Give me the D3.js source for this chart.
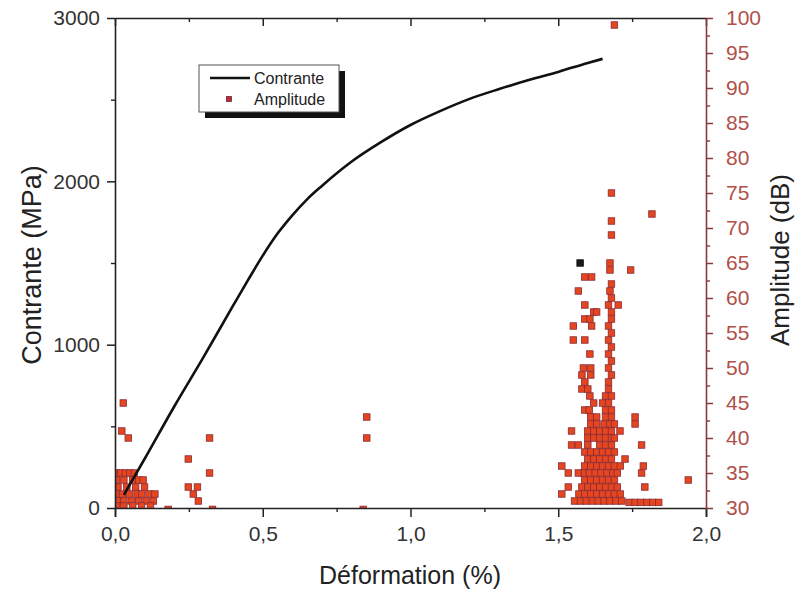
<!DOCTYPE html>
<html>
<head>
<meta charset="utf-8">
<script src="https://cdn.jsdelivr.net/npm/d3@7"></script>
<style>
  html, body { margin: 0; padding: 0; background: #fff; }
  svg { display: block; font-family: "Liberation Sans", Arial, sans-serif; }
</style>
</head>
<body>
<svg id="chart" width="797" height="591"></svg>
<script>
// Stress–strain curve (deformation in %, stress in MPa)
const deformation = [0.03, 0.1, 0.2, 0.3, 0.4, 0.45, 0.5, 0.55, 0.6, 0.65, 0.7, 0.8, 0.9, 1.0, 1.1, 1.2, 1.3, 1.4, 1.5, 1.6, 1.65];
const contrante   = [80, 300, 620, 925, 1240, 1395, 1545, 1680, 1792, 1890, 1972, 2120, 2240, 2345, 2430, 2505, 2565, 2620, 2670, 2725, 2750];

// Acoustic emission hits: [deformation %, amplitude dB]
const hitsEarly = [
  [0.005,35],[0.02,35],[0.035,35],[0.05,35],[0.065,35],
  [0.005,34],[0.03,34],[0.06,34],[0.08,34],[0.095,34],
  [0.01,33],[0.04,33],[0.07,33],[0.1,33],
  [0.005,32],[0.025,32],[0.05,32],[0.075,32],[0.09,32],[0.115,32],[0.135,32],
  [0.01,31],[0.03,31],[0.055,31],[0.08,31],[0.105,31],[0.13,31],
  [0.005,30.3],[0.03,30.3],[0.06,30.3],[0.09,30.3],[0.12,30.3],
  [0.028,45],[0.023,41],[0.045,40],
  [0.32,40],[0.248,37],[0.32,35],[0.248,33],[0.279,33],[0.265,32],[0.282,31],
  [0.852,43],[0.852,40],
  [0.18,29.8],[0.33,29.8],[0.84,29.8]
];

const hitsRupture = [
  [1.555,31],[1.575,31],[1.595,31],[1.615,31],[1.635,31],[1.655,31],[1.675,31],[1.695,31],[1.715,31],
  [1.74,30.8],[1.76,30.8],[1.78,30.8],[1.80,30.8],[1.82,30.8],[1.84,30.8],
  [1.57,32],[1.59,32],[1.61,32],[1.63,32],[1.65,32],[1.67,32],[1.69,32],[1.71,32],[1.512,32],
  [1.58,33],[1.60,33],[1.62,33],[1.64,33],[1.66,33],[1.68,33],[1.70,33],[1.534,33],[1.793,33],
  [1.59,34],[1.61,34],[1.63,34],[1.65,34],[1.67,34],[1.69,34],[1.94,34],
  [1.585,35],[1.605,35],[1.625,35],[1.645,35],[1.665,35],[1.685,35],[1.70,35],[1.534,35],[1.568,35],[1.782,35],
  [1.59,36],[1.61,36],[1.63,36],[1.65,36],[1.67,36],[1.69,36],[1.71,36],[1.512,36],[1.788,36],
  [1.60,37],[1.62,37],[1.64,37],[1.66,37],[1.68,37],[1.726,37],
  [1.59,38],[1.61,38],[1.63,38],[1.65,38],[1.67,38],[1.69,38],
  [1.60,39],[1.64,39],[1.66,39],[1.68,39],[1.545,39],[1.568,39],[1.782,39],
  [1.60,40],[1.62,40],[1.64,40],[1.66,40],[1.68,40],[1.69,40],
  [1.60,41],[1.62,41],[1.64,41],[1.66,41],[1.68,41],[1.709,41],[1.545,41],
  [1.61,42],[1.63,42],[1.655,42],[1.675,42],[1.69,42],[1.76,42],
  [1.61,43],[1.63,43],[1.66,43],[1.68,43],[1.76,43],
  [1.59,44],[1.605,44],[1.66,44],[1.68,44],
  [1.62,45],[1.65,45],[1.67,45],
  [1.607,46],[1.66,46],[1.68,46],
  [1.58,47],[1.60,47],[1.67,47],
  [1.59,48],[1.67,48],
  [1.58,49],[1.61,49],[1.68,49],
  [1.585,50],[1.61,50],[1.67,50],
  [1.68,51],
  [1.607,52],[1.67,52],
  [1.68,53],
  [1.551,54],[1.59,54],[1.67,54],
  [1.68,55],
  [1.551,56],[1.613,56],[1.67,56],
  [1.59,57],[1.607,57],[1.68,57],
  [1.62,58],[1.63,58],[1.68,58],
  [1.59,59],[1.703,59],[1.67,59],
  [1.68,60],
  [1.568,61],[1.675,61],
  [1.68,62],
  [1.59,63],[1.613,63],
  [1.675,64],[1.745,64],
  [1.675,65],
  [1.68,69],[1.68,71],[1.817,72],[1.68,75],[1.69,99]
];
const hitsDark = [[1.574,65]];

// Axis ticks
const xMajor = [0, 0.5, 1.0, 1.5, 2.0];
const xTickLabels = ["0,0", "0,5", "1,0", "1,5", "2,0"];
const xMinor = [0.25, 0.75, 1.25, 1.75];
const yLeftMajor = [0, 1000, 2000, 3000];
const yLeftMinor = [500, 1500, 2500];
const yRightMajor = [30, 35, 40, 45, 50, 55, 60, 65, 70, 75, 80, 85, 90, 95, 100];
const yRightMinor = [32.5, 37.5, 42.5, 47.5, 52.5, 57.5, 62.5, 67.5, 72.5, 77.5, 82.5, 87.5, 92.5, 97.5];

const svg = d3.select("#chart");
const W = 797, H = 591;
const plotL = 115, plotR = 706, plotT = 18, plotB = 508;

svg.append("rect").attr("width", W).attr("height", H).attr("fill", "#fff");

const x = d3.scaleLinear().domain([0, 2]).range([plotL, plotR]);
const yL = d3.scaleLinear().domain([0, 3000]).range([plotB, plotT]);
const yR = d3.scaleLinear().domain([30, 100]).range([plotB, plotT]);

svg.append("defs").append("clipPath").attr("id", "plotClip")
  .append("rect").attr("x", plotL).attr("y", plotT).attr("width", plotR - plotL).attr("height", plotB - plotT);

const axisColor = "#222";
const ampColor = "#8a3a3a";
const ampText = "#b0504a";
const tickFont = 21;

// Amplitude markers
const plot = svg.append("g").attr("clip-path", "url(#plotClip)");
const sq = 6.5;
function drawHits(data, fill, stroke) {
  plot.append("g").selectAll("rect").data(data).join("rect")
    .attr("x", d => x(d[0]) - sq / 2)
    .attr("y", d => yR(d[1]) - sq / 2)
    .attr("width", sq).attr("height", sq)
    .attr("fill", fill)
    .attr("stroke", stroke)
    .attr("stroke-width", 0.8);
}
drawHits(hitsEarly, "#e5461f", "#8a2a35");
drawHits(hitsRupture, "#e5461f", "#8a2a35");
drawHits(hitsDark, "#1a1a1a", "#111");

// Stress curve
const line = d3.line().x(d => x(d[0])).y(d => yL(d[1])).curve(d3.curveMonotoneX);
svg.append("path")
  .datum(deformation.map((d, i) => [d, contrante[i]]))
  .attr("d", line)
  .attr("fill", "none")
  .attr("stroke", "#111")
  .attr("stroke-width", 2.6);

// Bottom axis
const gx = svg.append("g").attr("transform", `translate(0,${plotB})`)
  .call(d3.axisBottom(x).tickValues(xMajor).tickSize(9).tickPadding(9)
    .tickFormat((d, i) => xTickLabels[i]));
gx.select(".domain").attr("stroke", axisColor).attr("stroke-width", 1.6);
gx.selectAll(".tick line").attr("stroke", axisColor).attr("stroke-width", 1.5);
gx.selectAll(".tick text").attr("font-size", tickFont).attr("fill", "#333")
  .attr("font-family", "Liberation Sans, Arial, sans-serif");
svg.append("g").attr("transform", `translate(0,${plotB})`)
  .call(d3.axisBottom(x).tickValues(xMinor).tickSize(4).tickFormat(""))
  .call(g => g.select(".domain").remove())
  .selectAll(".tick line").attr("stroke", axisColor).attr("stroke-width", 1.4);

// Top axis (mirror, inward ticks)
const gt = svg.append("g").attr("transform", `translate(0,${plotT})`)
  .call(d3.axisTop(x).tickValues(xMajor).tickSizeInner(-8).tickSizeOuter(0).tickFormat(""));
gt.select(".domain").attr("stroke", axisColor).attr("stroke-width", 1.6);
gt.selectAll(".tick line").attr("stroke", axisColor).attr("stroke-width", 1.5);
svg.append("g").attr("transform", `translate(0,${plotT})`)
  .call(d3.axisTop(x).tickValues(xMinor).tickSize(-4).tickFormat(""))
  .call(g => g.select(".domain").remove())
  .selectAll(".tick line").attr("stroke", axisColor).attr("stroke-width", 1.4);

// Left axis (stress)
const gl = svg.append("g").attr("transform", `translate(${plotL},0)`)
  .call(d3.axisLeft(yL).tickValues(yLeftMajor).tickSize(8).tickSizeOuter(0).tickPadding(7).tickFormat(d3.format("d")));
gl.select(".domain").attr("stroke", axisColor).attr("stroke-width", 1.6);
gl.selectAll(".tick line").attr("stroke", axisColor).attr("stroke-width", 1.5);
gl.selectAll(".tick text").attr("font-size", tickFont).attr("fill", "#333")
  .attr("font-family", "Liberation Sans, Arial, sans-serif");
svg.append("g").attr("transform", `translate(${plotL},0)`)
  .call(d3.axisLeft(yL).tickValues(yLeftMinor).tickSize(4).tickFormat(""))
  .call(g => g.select(".domain").remove())
  .selectAll(".tick line").attr("stroke", axisColor).attr("stroke-width", 1.4);

// Right axis (amplitude)
const gr = svg.append("g").attr("transform", `translate(${plotR},0)`)
  .call(d3.axisRight(yR).tickValues(yRightMajor).tickSize(7).tickSizeOuter(0).tickPadding(13).tickFormat(d3.format("d")));
gr.select(".domain").attr("stroke", ampColor).attr("stroke-width", 1.6);
gr.selectAll(".tick line").attr("stroke", ampColor).attr("stroke-width", 1.5);
gr.selectAll(".tick text").attr("font-size", tickFont).attr("fill", ampText)
  .attr("font-family", "Liberation Sans, Arial, sans-serif");
svg.append("g").attr("transform", `translate(${plotR},0)`)
  .call(d3.axisRight(yR).tickValues(yRightMinor).tickSize(4).tickFormat(""))
  .call(g => g.select(".domain").remove())
  .selectAll(".tick line").attr("stroke", ampColor).attr("stroke-width", 1.4);

// Axis titles
svg.append("text").attr("x", 410).attr("y", 584).attr("text-anchor", "middle")
  .attr("font-size", 25).attr("fill", "#222").text("Déformation (%)");
svg.append("text").attr("transform", "translate(41,265) rotate(-90)").attr("text-anchor", "middle")
  .attr("font-size", 27).attr("fill", "#222").text("Contrante (MPa)");
svg.append("text").attr("transform", "translate(789,260) rotate(-90)").attr("text-anchor", "middle")
  .attr("font-size", 26).attr("fill", "#222").text("Amplitude (dB)");

// Legend with drop shadow
const lg = svg.append("g");
lg.append("rect").attr("x", 205).attr("y", 71).attr("width", 140).attr("height", 47).attr("fill", "#111");
lg.append("rect").attr("x", 199).attr("y", 65).attr("width", 140).attr("height", 47)
  .attr("fill", "#fff").attr("stroke", "#555").attr("stroke-width", 1);
lg.append("line").attr("x1", 210).attr("x2", 250).attr("y1", 78).attr("y2", 78)
  .attr("stroke", "#111").attr("stroke-width", 2.6);
lg.append("text").attr("x", 254).attr("y", 84).attr("font-size", 16).attr("fill", "#222").text("Contrante");
lg.append("rect").attr("x", 226.5).attr("y", 96.5).attr("width", 5).attr("height", 5)
  .attr("fill", "#b03040").attr("stroke", "#7a2433").attr("stroke-width", 0.8);
lg.append("text").attr("x", 254).attr("y", 105).attr("font-size", 16).attr("fill", "#222").text("Amplitude");
</script>
</body>
</html>
